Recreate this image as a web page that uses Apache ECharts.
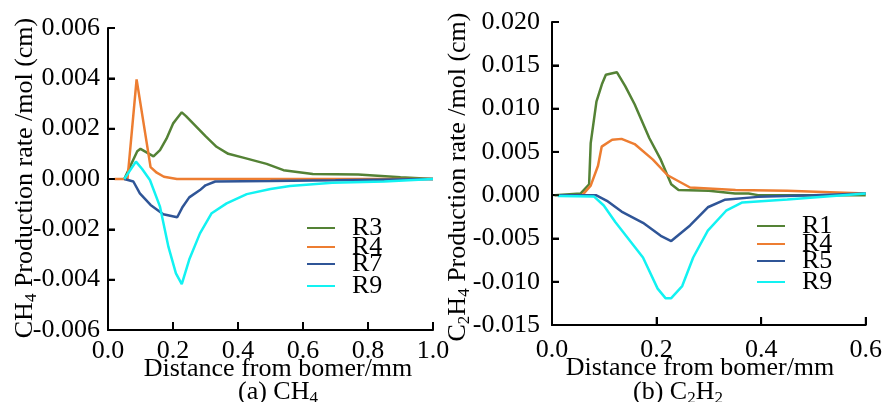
<!DOCTYPE html>
<html>
<head>
<meta charset="utf-8">
<script src="https://cdn.jsdelivr.net/npm/echarts@6/dist/echarts.min.js"></script>
<style>
  html, body { margin: 0; padding: 0; background: #fff; }
  #main { width: 885px; height: 402px; }
</style>
</head>
<body>
<div id="main"></div>
<script>
// (a) CH4 -- [distance mm, rate]
const ch4R3 = [[0.05, 0], [0.09, 0.0011], [0.1, 0.0012], [0.12, 0.00105], [0.14, 0.0009], [0.16, 0.00115],
  [0.18, 0.0016], [0.2, 0.0022], [0.212, 0.0024], [0.227, 0.00265], [0.24, 0.0025], [0.27, 0.0021],
  [0.3, 0.0017], [0.334, 0.00128], [0.37, 0.001], [0.416, 0.00085], [0.488, 0.0006], [0.54, 0.00035],
  [0.63, 0.0002], [0.77, 0.00018], [0.9, 0.00007], [1.0, 0]];
const ch4R4 = [[0.02, 0], [0.06, 0], [0.088, 0.00396], [0.131, 0.00047], [0.15, 0.00025], [0.172, 0.00009],
  [0.212, 0], [0.4, 0], [0.6, 0], [0.8, 0], [1.0, 0]];
const ch4R7 = [[0.05, 0], [0.078, -0.0001], [0.098, -0.00057], [0.131, -0.00103], [0.17, -0.0014],
  [0.213, -0.00152], [0.23, -0.0011], [0.25, -0.00073], [0.283, -0.00044], [0.3, -0.00025],
  [0.33, -0.0001], [0.5, -0.00008], [0.7, -0.00005], [1.0, 0]];
const ch4R9 = [[0.05, 0], [0.086, 0.00069], [0.105, 0.0004], [0.129, -0.00004], [0.16, -0.0011],
  [0.186, -0.0027], [0.209, -0.00375], [0.227, -0.00418], [0.25, -0.0032], [0.283, -0.00216],
  [0.319, -0.00136], [0.365, -0.00097], [0.427, -0.0006], [0.5, -0.0004], [0.56, -0.00028],
  [0.69, -0.00015], [0.85, -0.0001], [1.0, 0]];

// (b) C2H2
const c2R1 = [[0.005, 0], [0.055, 0.0002], [0.071, 0.00126], [0.074, 0.006], [0.085, 0.0108],
  [0.096, 0.0129], [0.103, 0.0139], [0.124, 0.0142], [0.14, 0.0126], [0.158, 0.0105], [0.186, 0.0066],
  [0.208, 0.0041], [0.228, 0.00126], [0.242, 0.0006], [0.3, 0.0005], [0.35, 0.0002], [0.376, 0.0002],
  [0.394, 0], [0.6, 0]];
const c2R4 = [[0.015, 0], [0.058, 0], [0.074, 0.0011], [0.088, 0.0034], [0.095, 0.0056], [0.115, 0.0064],
  [0.133, 0.0065], [0.158, 0.0059], [0.193, 0.0041], [0.221, 0.0023], [0.264, 0.00088],
  [0.351, 0.0006], [0.45, 0.0005], [0.6, 0.0002]];
const c2R5 = [[0.015, 0], [0.084, 0], [0.105, -0.00066], [0.133, -0.0019], [0.174, -0.0032],
  [0.208, -0.0047], [0.228, -0.0053], [0.264, -0.0035], [0.298, -0.0014], [0.33, -0.00054],
  [0.394, -0.0002], [0.5, 0], [0.6, 0.0002]];
const c2R9 = [[0.011, -0.0001], [0.08, -0.00015], [0.099, -0.0012], [0.121, -0.0031], [0.174, -0.0072],
  [0.202, -0.0108], [0.217, -0.0119], [0.228, -0.0119], [0.249, -0.0105], [0.27, -0.0072],
  [0.298, -0.0041], [0.333, -0.0018], [0.364, -0.00084], [0.45, -0.0005], [0.6, 0.0002]];

// tick values
const xTicksA = [0, 0.2, 0.4, 0.6, 0.8, 1.0];
const yTicksA = [-0.006, -0.004, -0.002, 0, 0.002, 0.004, 0.006];
const xTicksB = [0, 0.2, 0.4, 0.6];
const yTicksB = [-0.015, -0.01, -0.005, 0, 0.005, 0.01, 0.015, 0.02];

const legendA = ['R3', 'R4', 'R7', 'R9'];
const legendB = ['R1', 'R4', 'R5', 'R9'];

const FONT = '"Liberation Serif", "Times New Roman", serif';
const GREEN = '#548235';
const ORANGE = '#ED7D31';
const BLUE = '#2F5597';
const CYAN = '#12F2F2';

const myChart = echarts.init(document.getElementById('main'));

// 带下标的富文本样式
const richText = {
  n: { fontFamily: FONT, fontSize: 26, lineHeight: 30, fill: '#000' },
  s: { fontFamily: FONT, fontSize: 17, lineHeight: 17, verticalAlign: 'bottom', fill: '#000' },
};

function xAxisOf(gridIndex, ticks, labelMargin) {
  return {
    type: 'value',
    gridIndex,
    min: ticks[0],
    max: ticks[ticks.length - 1],
    interval: 0.2,
    axisLine: { show: true, onZero: false, lineStyle: { color: '#000', width: 2 } },
    axisTick: { show: true, inside: true, length: 8, lineStyle: { color: '#000', width: 2 } },
    axisLabel: {
      margin: labelMargin,
      fontFamily: FONT,
      fontSize: 26,
      color: '#000',
      formatter: v => v.toFixed(1),
    },
    splitLine: { show: false },
  };
}

function yAxisOf(gridIndex, ticks, interval, labelMargin) {
  return {
    type: 'value',
    gridIndex,
    min: ticks[0],
    max: ticks[ticks.length - 1],
    interval,
    axisLine: { show: true, lineStyle: { color: '#000', width: 2 } },
    axisTick: { show: true, inside: true, length: 7, lineStyle: { color: '#000', width: 2 } },
    axisLabel: {
      margin: labelMargin,
      fontFamily: FONT,
      fontSize: 26,
      color: '#000',
      formatter: v => v.toFixed(3),
    },
    splitLine: { show: false },
  };
}

function line(name, data, color, idx) {
  return {
    name,
    type: 'line',
    xAxisIndex: idx,
    yAxisIndex: idx,
    data,
    symbol: 'none',
    color,
    lineStyle: { color, width: 2.5 },
    z: 2,
  };
}

// 坐标轴框线（L 形）与内向刻度，用序列画出，位置由比例尺换算
function frameSeries(idx, xTicks, yTicks) {
  const x0 = xTicks[0], x1 = xTicks[xTicks.length - 1];
  const y0 = yTicks[0], y1 = yTicks[yTicks.length - 1];
  return [
    {
      type: 'line',
      xAxisIndex: idx,
      yAxisIndex: idx,
      data: [[x1, y0], [x0, y0], [x0, y1]],
      symbol: 'none',
      silent: true,
      clip: false,
      lineStyle: { color: '#000', width: 2 },
      z: 5,
    },
    {
      type: 'scatter',
      xAxisIndex: idx,
      yAxisIndex: idx,
      data: xTicks.map(v => [v, y0]),
      symbol: 'rect',
      symbolSize: [2, 8],
      symbolOffset: [0, -4],
      itemStyle: { color: '#000' },
      silent: true,
      clip: false,
      z: 5,
    },
    {
      type: 'scatter',
      xAxisIndex: idx,
      yAxisIndex: idx,
      data: yTicks.map(v => [x0, v]),
      symbol: 'rect',
      symbolSize: [7, 2],
      symbolOffset: [3.5, 0],
      itemStyle: { color: '#000' },
      silent: true,
      clip: false,
      z: 5,
    },
  ];
}

function label(text, x, y, rotation) {
  return {
    type: 'text',
    x,
    y,
    rotation: rotation || 0,
    style: { text, rich: richText, align: 'center', verticalAlign: 'middle' },
  };
}

// 每个图例项单独一个 legend，便于逐行定位
function legendItem(name, left, top) {
  return {
    data: [name],
    left,
    top,
    padding: 0,
    itemWidth: 28,
    itemHeight: 10,
    icon: 'path://M0,4 L28,4 L28,6 L0,6 Z',
    textStyle: { fontFamily: FONT, fontSize: 26, color: '#000', padding: [0, 0, 0, 12] },
  };
}

const legendTopsA = [215, 234, 251, 273];
const legendTopsB = [213, 231, 248, 269];

const option = {
  backgroundColor: '#fff',
  animation: false,
  grid: [
    { left: 108, top: 28, width: 325, height: 302 },
    { left: 552, top: 22, width: 321, height: 303 },
  ],
  xAxis: [xAxisOf(0, xTicksA, 8), xAxisOf(1, xTicksB, 12)],
  yAxis: [yAxisOf(0, yTicksA, 0.002, 8), yAxisOf(1, yTicksB, 0.005, 12)],
  legend: legendA.map((n, i) => legendItem(n, 307, legendTopsA[i]))
    .concat(legendB.map((n, i) => legendItem(n, 757, legendTopsB[i]))),
  graphic: [
    label('{n|CH}{s|4}{n| Production rate /mol (cm)}', 25, 178, Math.PI / 2),
    label('{n|C}{s|2}{n|H}{s|4}{n| Production rate /mol (cm)}', 458, 177, Math.PI / 2),
    label('{n|Distance from bomer/mm}', 278, 369),
    label('{n|Distance from bomer/mm}', 700, 368),
    label('{n|(a) CH}{s|4}', 278, 392),
    label('{n|(b) C}{s|2}{n|H}{s|2}', 678, 392),
  ],
  series: [
    line('R3', ch4R3, GREEN, 0),
    line('R4', ch4R4, ORANGE, 0),
    line('R7', ch4R7, BLUE, 0),
    line('R9', ch4R9, CYAN, 0),
    line('R1', c2R1, GREEN, 1),
    line('R4', c2R4, ORANGE, 1),
    line('R5', c2R5, BLUE, 1),
    line('R9', c2R9, CYAN, 1),
  ].concat(frameSeries(0, xTicksA, yTicksA), frameSeries(1, xTicksB, yTicksB)),
};

myChart.setOption(option);
</script>
</body>
</html>
